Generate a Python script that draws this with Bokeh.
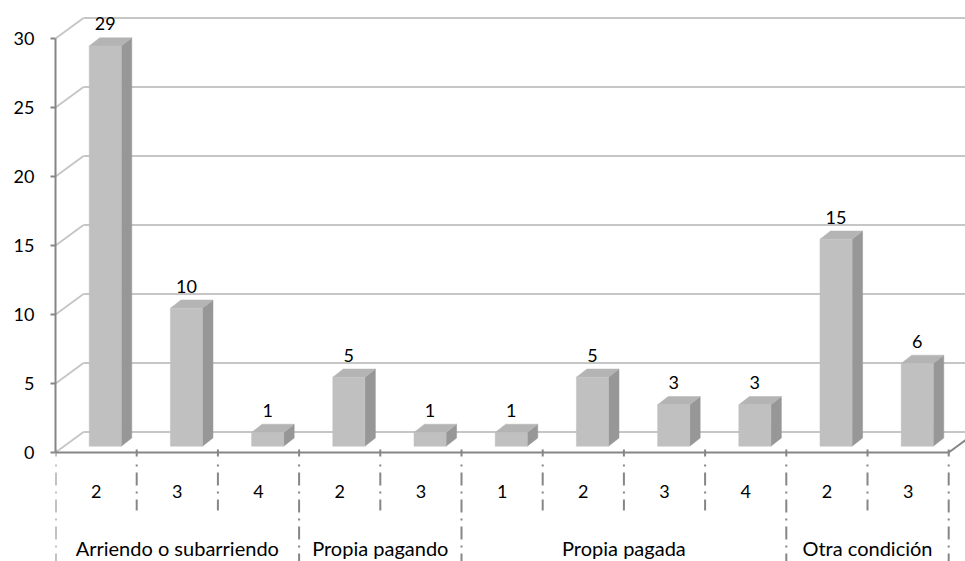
import numpy as np
from bokeh.plotting import figure
from bokeh.models import LinearAxis, FixedTicker, Range1d
from bokeh.core.properties import value
from bokeh.embed import file_html
from bokeh.resources import INLINE

# ---- data ----
groups = ["Arriendo o subarriendo", "Propia pagando", "Propia pagada", "Otra condición"]
group_subcats = [["2", "3", "4"], ["2", "3"], ["1", "2", "3", "4"], ["2", "3"]]
values = [29, 10, 1, 5, 1, 1, 5, 3, 3, 15, 6]
y_ticks = [0, 5, 10, 15, 20, 25, 30]

# ---- geometry (in data units) ----
PX_X = 81.2   # pixels per category
PX_Y = 13.8   # pixels per unit value
WDX, WDY = 28 / PX_X, 20.5 / PX_Y        # back-wall depth offset
BL, BW = 0.415, 0.395                     # bar front face left offset / width
BDX, BDY = 10.5 / PX_X, 8.2 / PX_Y        # bar depth
B0 = 6.3 / PX_Y                           # bar base lift

W, H = 965, 561
LEFT = 55
ZERO_Y = 452

subcats = [s for g in group_subcats for s in g]
n = len(subcats)
x_end = (W - LEFT) / PX_X
y_end = ZERO_Y / PX_Y
y_start = -(H - ZERO_Y) / PX_Y

FONT = "Lato"
AX = "#868686"
GRID = "#c6c6c6"

p = figure(width=W, height=H, output_backend="svg", toolbar_location=None,
           x_axis_type=None, y_axis_type=None,
           x_range=Range1d(0, x_end), y_range=Range1d(y_start, y_end),
           min_border_left=LEFT, min_border_right=0, min_border_top=0, min_border_bottom=0)
p.outline_line_color = None
p.background_fill_color = "white"

yax = LinearAxis(ticker=FixedTicker(ticks=y_ticks), bounds=(0, 30))
yax.axis_line_color = AX
yax.axis_line_width = 2
yax.major_tick_line_color = AX
yax.major_tick_line_width = 2
yax.major_tick_out = 5
yax.major_tick_in = 0
yax.minor_tick_line_color = None
yax.major_label_text_font = FONT
yax.major_label_text_font_size = "18px"
yax.major_label_text_color = "#000000"
yax.major_label_standoff = 16
p.add_layout(yax, "left")

yt = np.array(y_ticks, dtype=float)
# back wall gridlines
p.segment(x0=np.full(len(yt), WDX), y0=yt + WDY, x1=np.full(len(yt), x_end), y1=yt + WDY,
          line_color=GRID, line_width=2)
# left wall diagonals
p.segment(x0=np.zeros(len(yt)), y0=yt, x1=np.full(len(yt), WDX), y1=yt + WDY,
          line_color=GRID, line_width=2)
# floor right edge
p.segment(x0=[n], y0=[0], x1=[n + WDX], y1=[WDY], line_color=AX, line_width=2)
# front axis line
p.segment(x0=[0], y0=[0], x1=[n], y1=[0], line_color=AX, line_width=2)
xi = np.arange(n + 1, dtype=float)
p.segment(x0=xi, y0=np.full(len(xi), 3 / PX_Y), x1=xi, y1=np.full(len(xi), -4 / PX_Y),
          line_color=AX, line_width=2)

# separators below axis
bounds_idx = [0]
for g in group_subcats:
    bounds_idx.append(bounds_idx[-1] + len(g))
sx = xi
sy1 = np.array([y_start if int(i) in bounds_idx else -58 / PX_Y for i in xi])
p.segment(x0=sx, y0=np.full(len(sx), -12 / PX_Y), x1=sx, y1=sy1,
          line_color=AX, line_width=2, line_dash="2 6 13 6")

# bars
v = np.array(values, dtype=float)
idx = np.arange(n, dtype=float)
L = idx + BL
R = L + BW
T = B0 + v
side_xs = [[r, r + BDX, r + BDX, r] for r in R]
side_ys = [[B0, B0 + BDY, t + BDY, t] for t in T]
top_xs = [[l, r, r + BDX, l + BDX] for l, r in zip(L, R)]
top_ys = [[t, t, t + BDY, t + BDY] for t in T]
p.patches(side_xs, side_ys, fill_color="#979797", line_color="#979797", line_width=0.5)
p.patches(top_xs, top_ys, fill_color="#b4b4b4", line_color="#b4b4b4", line_width=0.5)
p.quad(left=L, right=R, bottom=np.full(n, B0), top=T, fill_color="#c0c0c0",
       line_color="#c0c0c0", line_width=0.5)

# data labels
p.text(x=L + BW / 2, y=T + BDY + 14 / PX_Y, text=[str(int(a)) for a in values],
       text_font=value(FONT), text_font_size="18px", text_color="#000000",
       text_align="center", text_baseline="alphabetic")

# category labels
p.text(x=idx + 0.5, y=np.full(n, -39 / PX_Y), text=subcats,
       text_font=value(FONT), text_font_size="18px", text_color="#000000",
       text_align="center", text_baseline="middle")
gcent = [(bounds_idx[k] + bounds_idx[k + 1]) / 2 for k in range(len(groups))]
p.text(x=gcent, y=np.full(len(groups), -95 / PX_Y), text=groups,
       text_font=value(FONT), text_font_size="20px", text_color="#000000",
       text_align="center", text_baseline="middle")

open("out.html", "w").write(file_html(p, INLINE))
